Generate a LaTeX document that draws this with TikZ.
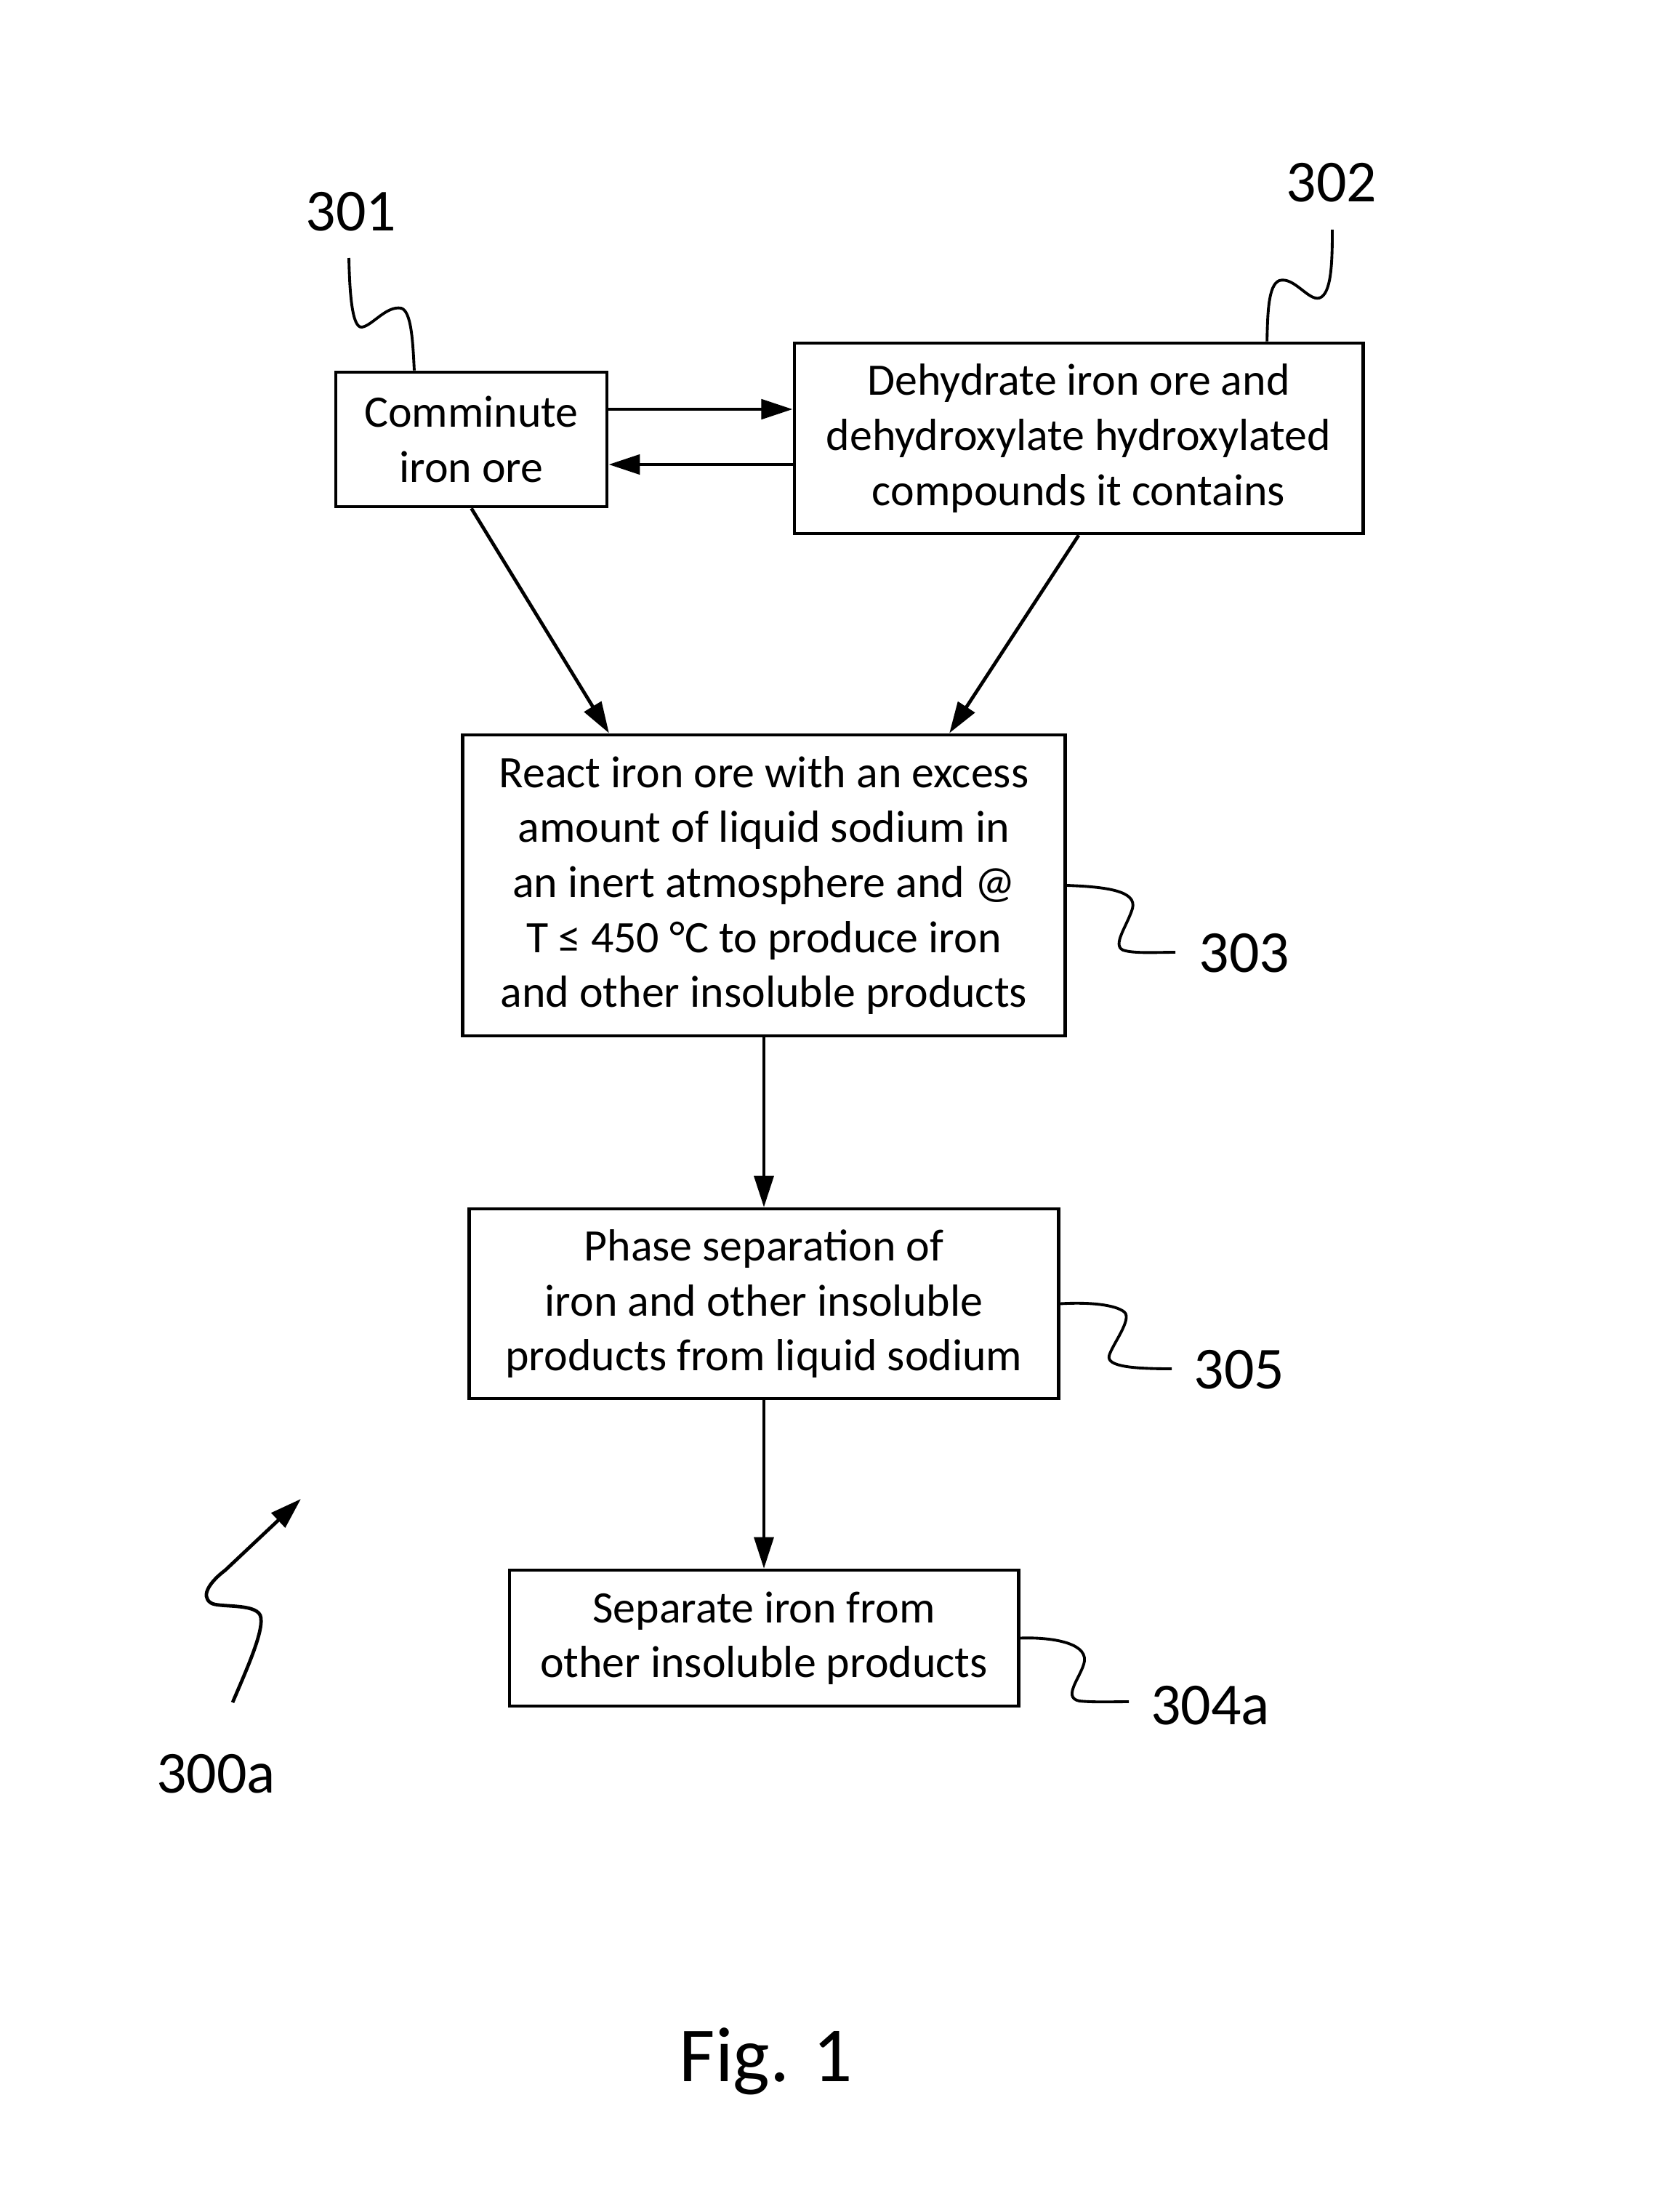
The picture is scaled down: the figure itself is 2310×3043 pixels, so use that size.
\documentclass[tikz,border=0pt]{standalone}
\usepackage{fontspec}
\setmainfont{Carlito}
\usetikzlibrary{shapes, arrows.meta}
\newcommand*{\boxText}{\fontsize{17.6}{21.5}\selectfont}
\newcommand*{\refText}{\fontsize{23.3}{28}\selectfont}
\newcommand*{\figText}{\fontsize{30.5}{36}\selectfont}

\begin{document}
\begin{tikzpicture}[x=0.01cm, y=-0.01cm,
	step_box/.style={draw, rectangle, line width=1.3pt, align=center, inner sep=0pt, font=\boxText},
	ref_label/.style={inner sep=0pt, font=\refText},
	flow/.style={line width=0.95pt, -{Triangle[length=4.3mm, width=2.7mm]}},
	thick_flow/.style={line width=1.35pt, -{Triangle[length=4.3mm, width=2.7mm]}},
	lead/.style={line width=1.1pt}]
	\useasboundingbox (0,0) rectangle (2310,3043);

	\node[step_box, minimum width=3.73cm, minimum height=1.85cm] (comminute) at (648.5,604.5) {Comminute\\iron ore};
	\node[step_box, minimum width=7.82cm, minimum height=2.62cm] (dehydrate) at (1484,603) {Dehydrate iron ore and\\dehydroxylate hydroxylated\\compounds it contains};
	\node[step_box, minimum width=8.29cm, minimum height=4.14cm] (react) at (1051,1218) {React iron ore with an excess\\amount of liquid sodium in\\an inert atmosphere and @\\T ≤ 450 °C to produce iron\\and other insoluble products};
	\node[step_box, minimum width=8.1cm, minimum height=2.61cm] (phase) at (1051,1793.5) {Phase separation of\\iron and other insoluble\\products from liquid sodium};
	\node[step_box, minimum width=7cm, minimum height=1.87cm] (separate) at (1051,2253.5) {Separate iron from\\other insoluble products};

	\node[ref_label] (ref_301) at (483,291) {301};
	\node[ref_label] (ref_302) at (1832,251) {302};
	\node[ref_label] (ref_303) at (1712,1311) {303};
	\node[ref_label] (ref_305) at (1705,1884) {305};
	\node[ref_label] (ref_304a) at (1665,2346) {304a};
	\node[ref_label] (ref_300a) at (297,2440) {300a};
	\node[inner sep=0pt, font=\figText, anchor=base] (fig_caption) at (1054,2863) {Fig. 1};

% flow between steps
	\coordinate (upper_y) at (0,563);
	\coordinate (lower_y) at (0,639);
	\draw[thick_flow] (comminute.east |- upper_y) -- (dehydrate.west |- upper_y);
	\draw[thick_flow] (dehydrate.west |- lower_y) -- (comminute.east |- lower_y);
	\draw[thick_flow] (comminute.south) -- ([xshift=-2.13cm]react.north);
	\draw[thick_flow] (dehydrate.south) -- ([xshift=2.55cm]react.north);
	\draw[flow] (react.south) -- (phase.north);
	\draw[flow] (phase.south) -- (separate.north);

% reference leaders
	\draw[lead] (480,355) .. controls (481,400) and (484,452) .. (498,450) .. controls (512,448) and (532,420) .. (552,424) .. controls (566,428) and (568,470) .. ([xshift=-0.785cm]comminute.north);
	\draw[lead] (1833,316) .. controls (1833,360) and (1832,405) .. (1815,410) .. controls (1800,414) and (1780,380) .. (1760,386) .. controls (1745,392) and (1744,430) .. ([xshift=2.59cm]dehydrate.north);
	\draw[lead] (react.east) .. controls (1520,1220) and (1565,1225) .. (1558,1250) .. controls (1550,1275) and (1530,1300) .. (1545,1307) .. controls (1560,1312) and (1590,1310) .. (1617,1310);
	\draw[lead] (phase.east) .. controls (1500,1791) and (1535,1795) .. (1547,1805) .. controls (1558,1815) and (1530,1850) .. (1526,1865) .. controls (1522,1880) and (1560,1883) .. (1612,1883);
	\draw[lead] (separate.east) .. controls (1440,2252) and (1495,2258) .. (1492,2285) .. controls (1489,2305) and (1460,2335) .. (1485,2340) .. controls (1505,2342) and (1530,2341) .. (1553,2341);

% figure pointer
	\coordinate (tail_300a) at (320,2342);
	\coordinate (tip_300a) at (414,2062);
	\draw[thick_flow] (tail_300a) .. controls (340,2295) and (365,2240) .. (358,2222) .. controls (350,2205) and (300,2212) .. (290,2205) .. controls (275,2195) and (290,2175) .. (310,2160) -- (tip_300a);
\end{tikzpicture}
\end{document}
